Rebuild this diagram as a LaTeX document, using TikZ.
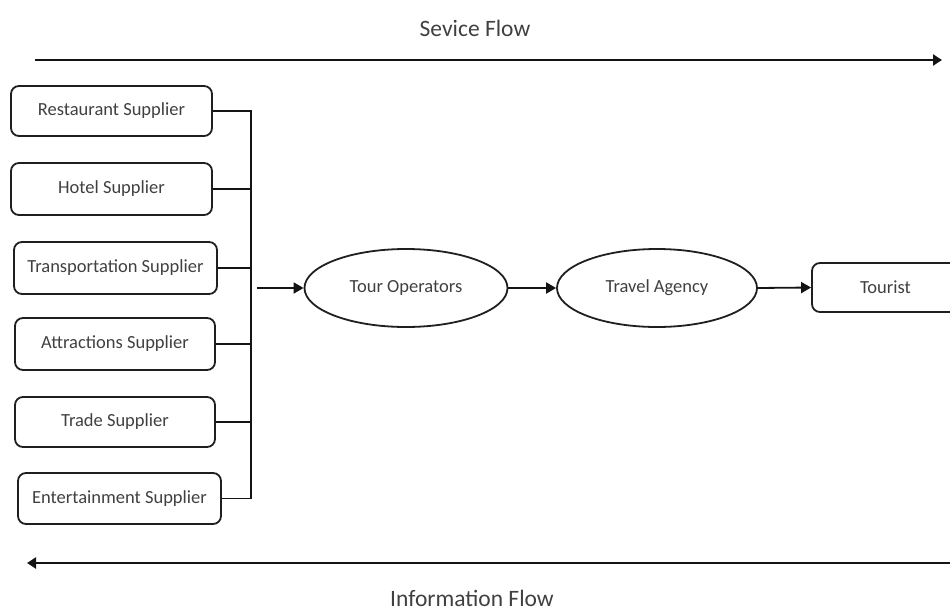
\documentclass[tikz,border=0pt]{standalone}
\usepackage{fontspec}
\setmainfont{Carlito}
\usetikzlibrary{arrows.meta,shapes.geometric}

\tikzset{
  supplier/.style={draw=black!88, line width=1.8pt, rounded corners=8pt,
    text=black!75, font=\fontsize{18.5}{20}\selectfont, inner sep=0pt},
  actor/.style={draw=black!88, line width=1.8pt, ellipse,
    text=black!75, font=\fontsize{18.5}{20}\selectfont, inner sep=0pt},
  link/.style={line width=1.8pt, draw=black!92},
  flow/.style={line width=2.8pt, draw=black!92, -{Triangle[length=9pt,width=11pt]}},
  feed/.style={line width=1.8pt, draw=black!92, -{Triangle[length=10pt,width=11pt]}},
  caption/.style={text=black!75, font=\fontsize{23.5}{26}\selectfont, inner sep=1pt}
}

\begin{document}
\begin{tikzpicture}[x=1pt,y=-1pt]
  \useasboundingbox (0,0) rectangle (950,613);
  \clip (0,0) rectangle (950,613);

  % flow captions
  \node[caption] (svc) at (475,28) {Sevice Flow};
  \node[caption] (info) at (472,598) {Information Flow};

  % flow arrows
  \coordinate (svcA) at (35,60);
  \coordinate (svcB) at (942,60);
  \coordinate (infA) at (952,563);
  \coordinate (infB) at (27,563);
  \draw[flow] (svcA) -- (svcB);
  \draw[flow] (infA) -- (infB);

  % suppliers
  \node[supplier, minimum width=201pt, minimum height=50pt] (rest) at (111.5,111) {Restaurant Supplier};
  \node[supplier, minimum width=201pt, minimum height=52pt] (hotel) at (111.5,189) {Hotel Supplier};
  \node[supplier, minimum width=203pt, minimum height=52pt] (trans) at (115.5,268) {Transportation Supplier};
  \node[supplier, minimum width=200pt, minimum height=52pt] (attr) at (115,344) {Attractions Supplier};
  \node[supplier, minimum width=200pt, minimum height=50pt] (trade) at (115,422) {Trade Supplier};
  \node[supplier, minimum width=203pt, minimum height=51pt] (ent) at (119.5,498.5) {Entertainment Supplier};

  % collecting bus
  \coordinate (busTop) at (251,111);
  \coordinate (busBot) at (251,498.5);
  \coordinate (busOut) at (257,288);
  \draw[link] ([yshift=0.9pt]busTop) -- ([yshift=-0.9pt]busBot);
  \foreach \s in {rest,hotel,trans,attr,trade,ent}
    \draw[link] (\s.east) -- (\s.east -| busTop);

  % chain
  \node[actor, minimum width=203pt, minimum height=78pt] (tour) at (406,288) {Tour Operators};
  \node[actor, minimum width=200pt, minimum height=78pt] (agency) at (657,288) {Travel Agency};
  \node[supplier, minimum width=160pt, minimum height=49pt, text width=140pt, align=left] (tourist) at (892,287.5) {\hspace*{38pt}Tourist};

  \draw[feed] (busOut) -- (tour.west);
  \draw[feed] (tour.east) -- (agency.west);
  \draw[feed] (agency.east) -- (tourist.west);
\end{tikzpicture}
\end{document}
